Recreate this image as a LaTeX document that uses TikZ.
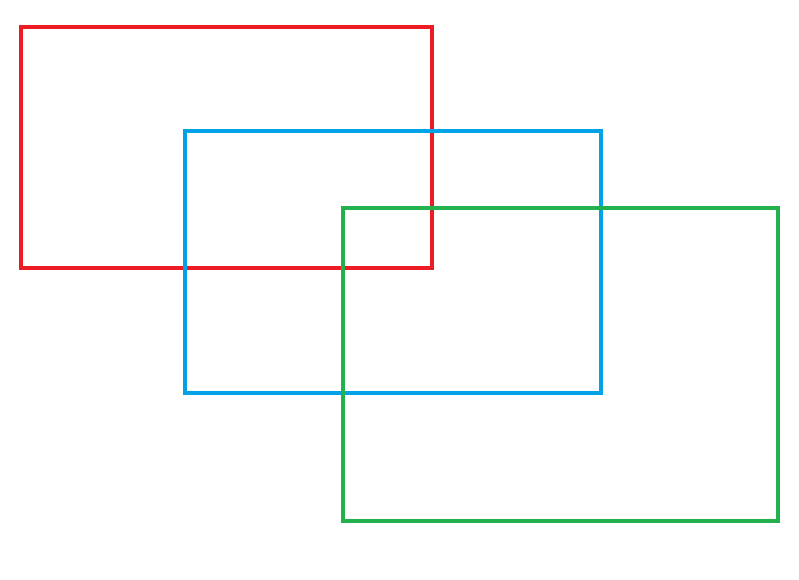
\documentclass[tikz,border=0pt]{standalone}
\usepackage{tikz}
\definecolor{paintred}{HTML}{ED1C24}
\definecolor{paintblue}{HTML}{00A2E8}
\definecolor{paintgreen}{HTML}{22B14C}
\tikzset{frame/.style={line width=4pt,line join=miter}}

\begin{document}
\begin{tikzpicture}[x=1pt,y=-1pt]
 \useasboundingbox (0,0) rectangle (799,579);
 \draw[frame,paintred] (21,27) rectangle (432,268);
 \draw[frame,paintblue] (185,131) rectangle (601,393);
 \draw[frame,paintgreen] (343,208) rectangle (778,521);
\end{tikzpicture}
\end{document}
